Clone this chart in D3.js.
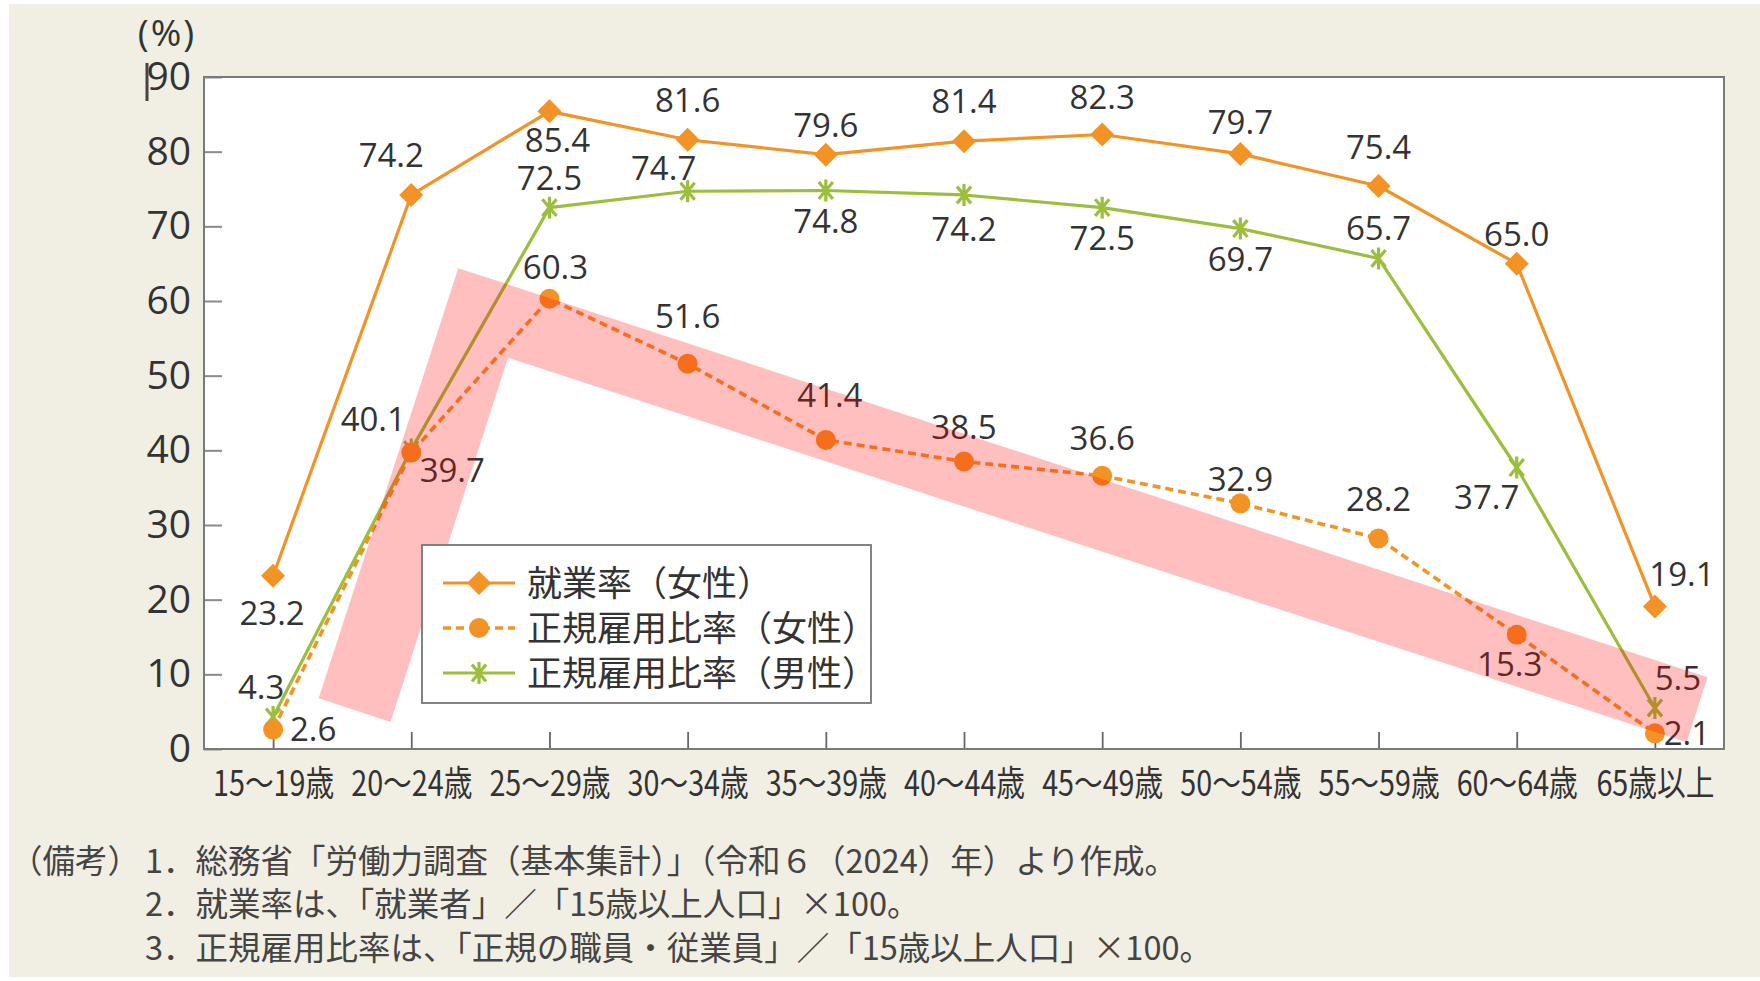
<!DOCTYPE html>
<html>
<head>
<meta charset="utf-8">
<script src="https://cdn.jsdelivr.net/npm/d3@7"></script>
<style>
  html, body { margin: 0; padding: 0; background: #ffffff; }
  svg { display: block; }
</style>
</head>
<body>
<svg id="chart" width="1760" height="981"></svg>
<script>
// ---- data ----
const categories = ["15～19歳", "20～24歳", "25～29歳", "30～34歳", "35～39歳",
  "40～44歳", "45～49歳", "50～54歳", "55～59歳", "60～64歳", "65歳以上"];
const employmentFemale = [23.2, 74.2, 85.4, 81.6, 79.6, 81.4, 82.3, 79.7, 75.4, 65.0, 19.1];
const regularFemale    = [2.6, 39.7, 60.3, 51.6, 41.4, 38.5, 36.6, 32.9, 28.2, 15.3, 2.1];
const regularMale      = [4.3, 40.1, 72.5, 74.7, 74.8, 74.2, 72.5, 69.7, 65.7, 37.7, 5.5];
const yTicks = [0, 10, 20, 30, 40, 50, 60, 70, 80, 90];
const seriesNames = ["就業率（女性）", "正規雇用比率（女性）", "正規雇用比率（男性）"];
const unitLabel = "(%)";
const noteHead = "（備考）";
const notes = [
  "1．総務省「労働力調査（基本集計）」（令和６（2024）年）より作成。",
  "2．就業率は、「就業者」／「15歳以上人口」×100。",
  "3．正規雇用比率は、「正規の職員・従業員」／「15歳以上人口」×100。"
];
// highlighted trend band, in (category index, %) units
const trendBand = [[0.33, 6.8], [1.34, 64.4], [10.38, 9.6], [10.23, 0.9], [1.70, 52.4], [0.85, 3.6]];

// ---- layout ----
const W = 1760, H = 981;
const plot = { left: 204, top: 77, right: 1724, bottom: 749 };
const colors = { orange: "#f39325", green: "#9bbe3c", text: "#333333", frame: "#7a7a7a" };

// value label offsets (px) from each point, per series
const offEmp = [[-1, 37], [-20, -40], [8, 29], [0, -40], [0, -30], [0, -40], [0, -37], [0, -32], [0, -39], [0, -30], [27, -32]];
const offRegF = [[40, 0], [41, 18], [6, -32], [0, -48], [4, -45], [0, -34], [0, -38], [0, -24], [0, -39], [-7, 29], [32, 0]];
const offRegM = [[-12, -30], [-38, -30], [0, -30], [-24, -23], [0, 31], [0, 34], [0, 30], [0, 31], [0, -30], [-30, 30], [23, -30]];

const svg = d3.select("#chart");

// page background
svg.append("rect").attr("x", 9).attr("y", 4).attr("width", W - 9).attr("height", H - 8)
  .attr("fill", "#f1eee3");

const x = d3.scalePoint().domain(categories).range([plot.left, plot.right]).padding(0.5);
const y = d3.scaleLinear().domain([0, 90]).range([plot.bottom, plot.top]);
const xi = d3.scaleLinear().domain([0, categories.length - 1])
  .range([x(categories[0]), x(categories[categories.length - 1])]);

// plot area
svg.append("rect")
  .attr("x", plot.left).attr("y", plot.top)
  .attr("width", plot.right - plot.left).attr("height", plot.bottom - plot.top)
  .attr("fill", "#ffffff");

// y axis
const yAxis = svg.append("g")
  .attr("transform", `translate(${plot.left},0)`)
  .call(d3.axisLeft(y).tickValues(yTicks).tickSize(-18).tickPadding(13).tickFormat(d3.format("d")));
yAxis.select(".domain").remove();
yAxis.selectAll(".tick line").attr("stroke", "#8a8a8a").attr("stroke-width", 2);
yAxis.selectAll(".tick text")
  .attr("font-family", "'Open Sans', sans-serif").attr("font-size", 39)
  .attr("fill", colors.text);

// x axis
const xAxis = svg.append("g")
  .attr("transform", `translate(0,${plot.bottom})`)
  .call(d3.axisBottom(x).tickSize(-17).tickPadding(0));
xAxis.select(".domain").remove();
xAxis.selectAll(".tick line").attr("stroke", "#666666").attr("stroke-width", 1.8);
xAxis.selectAll(".tick text")
  .attr("font-family", "'Noto Sans CJK JP', sans-serif").attr("font-size", 35)
  .attr("fill", colors.text)
  .attr("y", 34).attr("dy", "0.36em")
  .attr("transform", "scale(0.82,1)");

// frame
svg.append("rect")
  .attr("x", plot.left).attr("y", plot.top)
  .attr("width", plot.right - plot.left).attr("height", plot.bottom - plot.top)
  .attr("fill", "none").attr("stroke", colors.frame).attr("stroke-width", 2);

// unit label and stray mark by the top tick
svg.append("text").attr("x", 167).attr("y", 33).attr("dy", "0.36em")
  .attr("text-anchor", "middle")
  .attr("font-family", "'Open Sans', sans-serif").attr("font-size", 37)
  .attr("letter-spacing", 2)
  .attr("fill", colors.text).text(unitLabel);
svg.append("line").attr("x1", 147).attr("x2", 147).attr("y1", 63).attr("y2", 101)
  .attr("stroke", "#444").attr("stroke-width", 3);

// marker shapes
const diamond = { draw(ctx, size) { const r = Math.sqrt(size) / 2;
  ctx.moveTo(0, -r); ctx.lineTo(r, 0); ctx.lineTo(0, r); ctx.lineTo(-r, 0); ctx.closePath(); } };
const star = { draw(ctx, size) { const r = Math.sqrt(size) / 2;
  const a = 50 * Math.PI / 180, c = r * Math.cos(a), s = r * Math.sin(a);
  ctx.moveTo(0, -r); ctx.lineTo(0, r);
  ctx.moveTo(-c, -s); ctx.lineTo(c, s);
  ctx.moveTo(-c, s); ctx.lineTo(c, -s); } };

const line = d3.line().x((d, i) => x(categories[i])).y(d => y(d));

const series = [
  { name: seriesNames[0], values: employmentFemale, stroke: colors.orange, dash: null, width: 3.2,
    symbol: d3.symbol(diamond, 24 * 24), fill: colors.orange, mstroke: "none", offsets: offEmp },
  { name: seriesNames[1], values: regularFemale, stroke: colors.orange, dash: "8,5", width: 3.6,
    symbol: d3.symbol(d3.symbolCircle, Math.PI * 100), fill: colors.orange, mstroke: "none", offsets: offRegF },
  { name: seriesNames[2], values: regularMale, stroke: colors.green, dash: null, width: 3.2,
    symbol: d3.symbol(star, 22 * 22), fill: "none", mstroke: colors.green, offsets: offRegM }
];

const marks = svg.append("g");
// draw male first so the female series sits on top
[series[2], series[0], series[1]].forEach(s => {
  marks.append("path").datum(s.values)
    .attr("d", line).attr("fill", "none")
    .attr("stroke", s.stroke).attr("stroke-width", s.width)
    .attr("stroke-dasharray", s.dash).attr("stroke-linejoin", "round");
  marks.append("g").selectAll("path").data(s.values).join("path")
    .attr("transform", (d, i) => `translate(${x(categories[i])},${y(d)})`)
    .attr("d", s.symbol)
    .attr("fill", s.fill).attr("stroke", s.mstroke).attr("stroke-width", 3.2);
});

// value labels
const labels = svg.append("g")
  .attr("font-family", "'Open Sans', sans-serif").attr("font-size", 33)
  .attr("fill", colors.text).attr("text-anchor", "middle");
series.forEach(s => {
  labels.append("g").selectAll("text").data(s.values).join("text")
    .attr("x", (d, i) => x(categories[i]) + s.offsets[i][0])
    .attr("y", (d, i) => y(d) + s.offsets[i][1])
    .attr("dy", "0.36em")
    .text(d => d.toFixed(1));
});

// translucent trend band over the marks
svg.append("path")
  .attr("d", d3.line().x(d => xi(d[0])).y(d => y(d[1]))(trendBand) + "Z")
  .attr("fill", "rgb(255,0,0)").attr("fill-opacity", 0.25);

// legend
const lg = svg.append("g").attr("transform", "translate(422,545)");
lg.append("rect").attr("width", 449).attr("height", 158)
  .attr("fill", "#ffffff").attr("stroke", "#777777").attr("stroke-width", 1.8);
series.forEach((s, k) => {
  const row = lg.append("g").attr("transform", `translate(0,${38 + 45 * k})`);
  row.append("line").attr("x1", 21).attr("x2", 93)
    .attr("stroke", s.stroke).attr("stroke-width", s.width).attr("stroke-dasharray", s.dash);
  row.append("path").attr("transform", "translate(57,0)").attr("d", s.symbol())
    .attr("fill", s.fill).attr("stroke", s.mstroke).attr("stroke-width", 3.2);
  row.append("text").attr("x", 105).attr("dy", "0.36em")
    .attr("font-family", "'Noto Sans CJK JP', sans-serif").attr("font-size", 35)
    .attr("fill", colors.text).text(s.name);
});

// notes
const nt = svg.append("g")
  .attr("font-family", "'Noto Sans CJK JP', sans-serif").attr("font-size", 32.5)
  .attr("fill", "#444444");
nt.append("text").attr("x", 10).attr("y", 861).attr("dy", "0.36em").text(noteHead);
notes.forEach((t, i) => {
  nt.append("text").attr("x", 145).attr("y", 861 + 43.5 * i).attr("dy", "0.36em").text(t);
});
</script>
</body>
</html>
